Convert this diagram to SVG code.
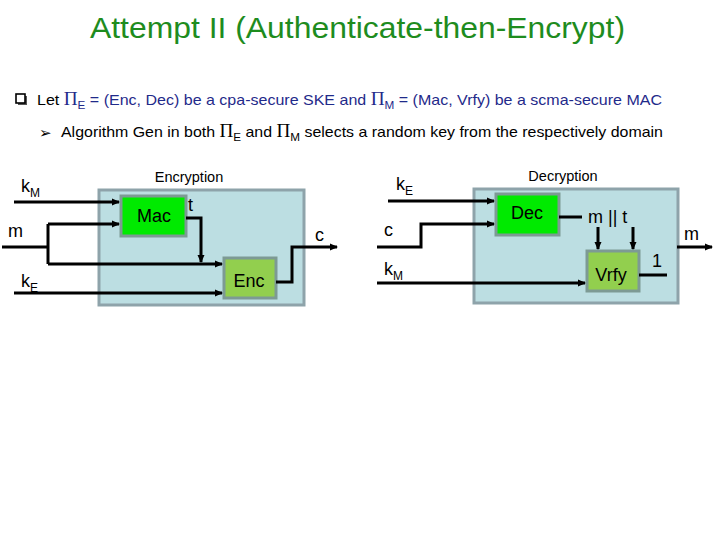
<svg xmlns="http://www.w3.org/2000/svg" width="720" height="540" viewBox="0 0 720 540">
<style>
text{font-family:"Liberation Sans",Arial,sans-serif}
.title{font-size:30px;fill:#1e8c1e}
.body{font-size:15px;fill:#000}
.blue{fill:#1f2a8a}
.pi{font-family:"Liberation Serif","Times New Roman",serif;font-size:18px}
.sub{font-size:11px}
.lbl{font-size:18px;fill:#000}
.lsub{font-size:12px}
.cap{font-size:14.5px;fill:#000;text-anchor:middle}
.blk{font-size:18px;fill:#000;text-anchor:middle}
.panel{fill:#bcdee2;stroke:#8ea3aa;stroke-width:3}
.bright{fill:#00ea00;stroke:#7d9a94;stroke-width:3}
.olive{fill:#92cf4e;stroke:#7d9a94;stroke-width:3}
.w{fill:none;stroke:#000;stroke-width:3}
.a{fill:none;stroke:#000;stroke-width:3;marker-end:url(#ah)}
</style>
<defs>
<marker id="ah" markerWidth="8" markerHeight="8" refX="7" refY="4" orient="auto" markerUnits="userSpaceOnUse">
<path d="M0,0.5 L8,4 L0,7.5 Z" fill="#000"/>
</marker>
</defs>
<rect width="720" height="540" fill="#fff"/>
<text class="title" x="90" y="38" textLength="535" lengthAdjust="spacingAndGlyphs">Attempt II (Authenticate-then-Encrypt)</text>
<g id="bullets">
<rect x="18" y="96" width="9" height="9" fill="#555"/>
<rect x="16" y="94" width="9" height="9" fill="#fff" stroke="#000" stroke-width="1.6"/>
<text class="body" x="37" y="105" textLength="625" lengthAdjust="spacingAndGlyphs">Let <tspan class="blue"><tspan class="pi">Π</tspan><tspan class="sub" dy="4">E</tspan><tspan dy="-4"> = (Enc, Dec) be a cpa-secure SKE and </tspan><tspan class="pi">Π</tspan><tspan class="sub" dy="4">M</tspan><tspan dy="-4"> = (Mac, Vrfy) be a scma-secure MAC</tspan></tspan></text>
<text x="39" y="138" style="font-family:'DejaVu Sans',sans-serif;font-size:15px">➢</text>
<text class="body" x="61" y="137" textLength="602" lengthAdjust="spacingAndGlyphs">Algorithm Gen in both <tspan class="pi">Π</tspan><tspan class="sub" dy="4">E</tspan><tspan dy="-4"> and </tspan><tspan class="pi">Π</tspan><tspan class="sub" dy="4">M</tspan><tspan dy="-4"> selects a random key from the respectively domain</tspan></text>
</g>
<g id="encryption">
<rect class="panel" x="99" y="190" width="205" height="115"/>
<text class="cap" x="189" y="182">Encryption</text>
</g>
<g id="mac">
<rect class="bright" x="121" y="196" width="65" height="40"/>
<text class="blk" x="154" y="222">Mac</text>
</g>
<g id="enc">
<rect class="olive" x="224" y="258" width="52" height="40"/>
<text class="blk" x="249" y="287">Enc</text>
</g>
<g id="decryption">
<rect class="panel" x="474" y="189" width="204" height="114"/>
<text class="cap" x="563" y="181">Decryption</text>
</g>
<g id="dec">
<rect class="bright" x="496" y="194" width="63" height="41"/>
<text class="blk" x="527" y="219">Dec</text>
</g>
<g id="vrfy">
<rect class="olive" x="587" y="251" width="52" height="40"/>
<text class="blk" x="611" y="281">Vrfy</text>
</g>
<g id="connectors">
<path class="a" d="M14,202 H119"/>
<path class="w" d="M2,247 H48"/>
<path class="w" d="M48,224 V264"/>
<path class="a" d="M48,224 H119"/>
<path class="a" d="M48,264 H222"/>
<path class="a" d="M186,218 H201 V262"/>
<path class="a" d="M14,293 H222"/>
<path class="a" d="M276,282 H292 V247 H337"/>
<path class="a" d="M388,201 H494"/>
<path class="a" d="M377,247 H421 V224 H494"/>
<path class="a" d="M377,283 H585"/>
<path class="w" d="M559,217 H582"/>
<path class="a" d="M598,227 V249"/>
<path class="a" d="M633,227 V249"/>
<path class="w" d="M639,275 H667"/>
<path class="a" d="M677,247 H712"/>
</g>
<g id="labels">
<text class="lbl" x="21" y="192">k<tspan class="lsub" dy="5">M</tspan></text>
<text class="lbl" x="8" y="237">m</text>
<text class="lbl" x="21" y="287">k<tspan class="lsub" dy="5">E</tspan></text>
<text class="lbl" x="188" y="211">t</text>
<text class="lbl" x="315" y="241">c</text>
<text class="lbl" x="396" y="190">k<tspan class="lsub" dy="5">E</tspan></text>
<text class="lbl" x="384" y="236">c</text>
<text class="lbl" x="384" y="275">k<tspan class="lsub" dy="5">M</tspan></text>
<text class="lbl" x="588" y="223">m || t</text>
<text class="lbl" x="652" y="267">1</text>
<text class="lbl" x="684" y="240">m</text>
</g>
</svg>
